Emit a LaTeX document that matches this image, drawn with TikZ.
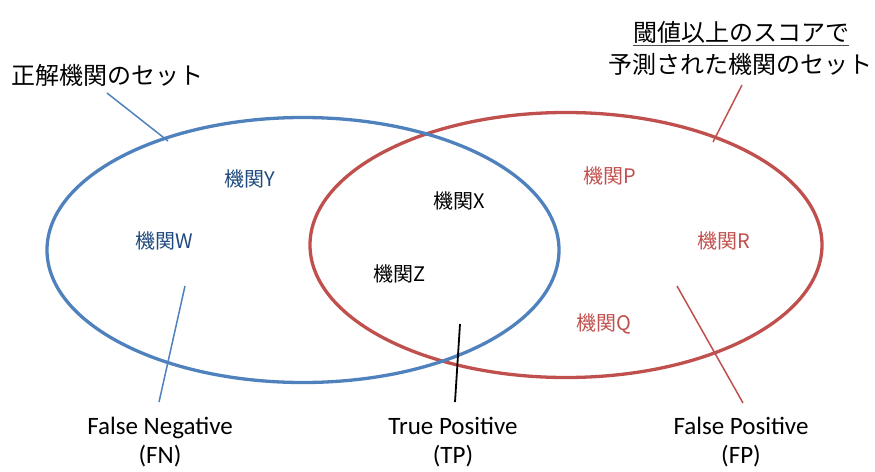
\documentclass[tikz,border=0pt]{standalone}
\usepackage{fontspec}
\setmainfont{Carlito}
\newfontfamily\jp{Noto Sans CJK JP}
\usetikzlibrary{shapes.geometric}
\definecolor{setblue}{HTML}{4F81BD}
\definecolor{setred}{HTML}{C0504D}
\definecolor{txtblue}{HTML}{1F497D}
\tikzset{
  setell/.style={ellipse, draw, line width=3.3pt, inner sep=0pt, minimum width=512pt, minimum height=265pt},
  jplab/.style={font=\jp\fontsize{20}{24}\selectfont, inner sep=0pt},
  title/.style={font=\jp\fontsize{24}{30}\selectfont, inner sep=0pt, align=center},
  caption/.style={font=\fontsize{25}{29}\selectfont, inner sep=0pt, align=center},
  pointer/.style={line width=1.5pt}
}
\begin{document}
\begin{tikzpicture}[x=1pt,y=-1pt]
\useasboundingbox (0,0) rectangle (875,471);
% sets
\node[setell, setred] (R) at (566,245) {};
\node[setell, setblue] (B) at (303,250) {};
% titles
\node[title, anchor=west] (tB) at (11,75) {正解機関のセット};
\node[title] (tR1) at (741,32) {閾値以上のスコアで};
\draw[line width=1pt, black!70] ([yshift=-2pt]tR1.south west) -- ([yshift=-2pt]tR1.south east);
\node[title] (tR2) at (740,64) {予測された機関のセット};
% members
\node[jplab, txtblue] (Y) at (250,179) {機関Y};
\node[jplab, txtblue] (W) at (164,241) {機関W};
\node[jplab] (X) at (459,201) {機関X};
\node[jplab] (Z) at (400,274) {機関Z};
\node[jplab, setred] (P) at (610,176) {機関P};
\node[jplab, setred] (Rr) at (724,241) {機関R};
\node[jplab, setred] (Q) at (604,324) {機関Q};
% captions
\node[caption] (FN) at (160,442) {False Negative\\(FN)};
\node[caption] (TP) at (453,442) {True Positive\\(TP)};
\node[caption] (FP) at (741,442) {False Positive\\(FP)};
% pointer coordinates
\coordinate (pB1) at (107,93);
\coordinate (pB2) at (168,141);
\coordinate (pR1) at (742,85);
\coordinate (pR2) at (713,142);
\coordinate (fn1) at (185,286);
\coordinate (fn2) at (159,402);
\coordinate (tp1) at (460,324);
\coordinate (tp2) at (455,402);
\coordinate (fp1) at (677,286);
\coordinate (fp2) at (743,403);
\draw[pointer, setblue] (pB1) -- (pB2);
\draw[pointer, setred] (pR1) -- (pR2);
\draw[pointer, setblue] (fn1) -- (fn2);
\draw[pointer, black, line width=1.8pt] (tp1) -- (tp2);
\draw[pointer, setred] (fp1) -- (fp2);
\end{tikzpicture}
\end{document}
